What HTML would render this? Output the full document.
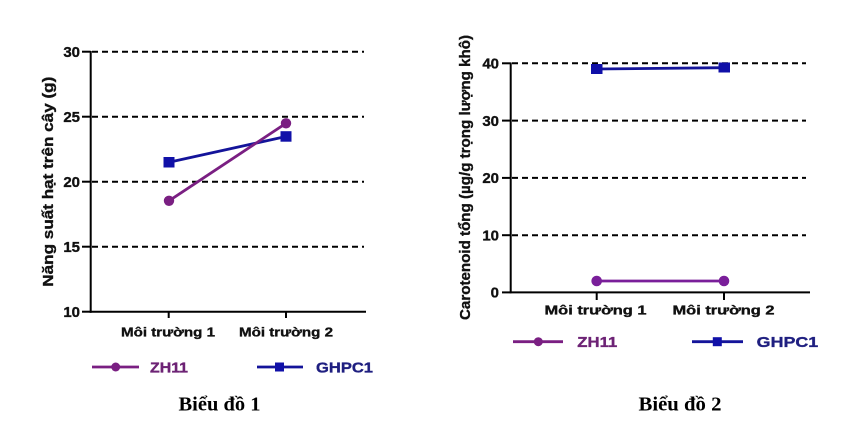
<!DOCTYPE html>
<html><head><meta charset="utf-8"><style>
html,body{margin:0;padding:0;background:#fff;}
svg{display:block;}
text{font-family:"Liberation Sans",Arial,sans-serif;font-weight:bold;}
.cap{font-family:"Liberation Serif","Times New Roman",serif;font-weight:bold;}
.hv{stroke:currentColor;stroke-width:0.35;}
</style></head><body>
<svg width="864" height="447" viewBox="0 0 864 447" xmlns="http://www.w3.org/2000/svg">
<rect width="864" height="447" fill="#fff"/>
<!-- Chart 1 -->
<g stroke="#000" stroke-width="2" stroke-dasharray="6,4" fill="none">
<line x1="92" y1="51.7" x2="364" y2="51.7"/>
<line x1="92" y1="116.7" x2="364" y2="116.7"/>
<line x1="92" y1="181.7" x2="364" y2="181.7"/>
<line x1="92" y1="246.7" x2="364" y2="246.7"/>
</g>
<g stroke="#000" stroke-width="2" fill="none">
<line x1="90.7" y1="51" x2="90.7" y2="312.7"/>
<line x1="89.7" y1="311.7" x2="366" y2="311.7"/>
<line x1="82" y1="51.7" x2="90.7" y2="51.7"/>
<line x1="82" y1="116.7" x2="90.7" y2="116.7"/>
<line x1="82" y1="181.7" x2="90.7" y2="181.7"/>
<line x1="82" y1="246.7" x2="90.7" y2="246.7"/>
<line x1="82" y1="311.7" x2="90.7" y2="311.7"/>
<line x1="168.7" y1="311.7" x2="168.7" y2="318"/>
<line x1="286" y1="311.7" x2="286" y2="318"/>
</g>
<g font-size="15" text-anchor="end" fill="#111" style="color:#111" class="hv">
<text x="80" y="57">30</text>
<text x="80" y="122">25</text>
<text x="80" y="187">20</text>
<text x="80" y="252">15</text>
<text x="80" y="317">10</text>
</g>
<text class="hv" style="color:#111" x="121" y="336.5" font-size="13" fill="#111" textLength="94" lengthAdjust="spacingAndGlyphs">Môi trường 1</text>
<text class="hv" style="color:#111" x="239" y="336.5" font-size="13" fill="#111" textLength="94" lengthAdjust="spacingAndGlyphs">Môi trường 2</text>
<text class="hv" style="color:#111" transform="translate(53,286.7) rotate(-90)" font-size="15" fill="#111" textLength="210" lengthAdjust="spacingAndGlyphs">Năng suất hạt trên cây (g)</text>
<!-- series chart1 -->
<line x1="169" y1="162.3" x2="286" y2="136.5" stroke="#14149a" stroke-width="2.8"/>
<line x1="169" y1="200.8" x2="286" y2="123.3" stroke="#7a1f82" stroke-width="2.8"/>
<rect x="163.5" y="157" width="11" height="10.5" fill="#1010a8"/>
<rect x="280.5" y="131.2" width="11" height="10.5" fill="#1010a8"/>
<circle cx="169" cy="200.8" r="5.2" fill="#7a1f82"/>
<circle cx="286" cy="123.3" r="5.2" fill="#7a1f82"/>
<!-- legend 1 -->
<line x1="92" y1="367" x2="139" y2="367" stroke="#7a1f82" stroke-width="2.8"/>
<circle cx="115.7" cy="367" r="4.5" fill="#7a1f82"/>
<text class="hv" style="color:#6d2375" x="150" y="372.5" font-size="15" fill="#6d2375" textLength="38" lengthAdjust="spacingAndGlyphs">ZH11</text>
<line x1="257" y1="367" x2="303" y2="367" stroke="#14149a" stroke-width="2.8"/>
<rect x="275" y="362.5" width="9" height="9" fill="#1010a8"/>
<text class="hv" style="color:#1f1f80" x="316" y="372.5" font-size="15" fill="#1f1f80" textLength="57" lengthAdjust="spacingAndGlyphs">GHPC1</text>
<text class="cap" x="178.5" y="410.7" font-size="20" fill="#000" textLength="82" lengthAdjust="spacingAndGlyphs">Biểu đồ 1</text>

<!-- Chart 2 -->
<g stroke="#000" stroke-width="2" stroke-dasharray="6,4" fill="none">
<line x1="512" y1="63.3" x2="806" y2="63.3"/>
<line x1="512" y1="120.6" x2="806" y2="120.6"/>
<line x1="512" y1="177.9" x2="806" y2="177.9"/>
<line x1="512" y1="235.2" x2="806" y2="235.2"/>
</g>
<g stroke="#000" stroke-width="2" fill="none">
<line x1="510.7" y1="62.5" x2="510.7" y2="293.3"/>
<line x1="509.7" y1="292.4" x2="810" y2="292.4"/>
<line x1="502" y1="63.3" x2="510.7" y2="63.3"/>
<line x1="502" y1="120.6" x2="510.7" y2="120.6"/>
<line x1="502" y1="177.9" x2="510.7" y2="177.9"/>
<line x1="502" y1="235.2" x2="510.7" y2="235.2"/>
<line x1="502" y1="292.4" x2="510.7" y2="292.4"/>
<line x1="596.7" y1="292.4" x2="596.7" y2="300"/>
<line x1="724" y1="292.4" x2="724" y2="300"/>
</g>
<g font-size="15" text-anchor="end" fill="#111" style="color:#111" class="hv">
<text x="499" y="68.6">40</text>
<text x="499" y="125.9">30</text>
<text x="499" y="183.2">20</text>
<text x="499" y="240.5">10</text>
<text x="499" y="297.7">0</text>
</g>
<text class="hv" style="color:#111" x="544.5" y="314.5" font-size="13" fill="#111" textLength="102" lengthAdjust="spacingAndGlyphs">Môi trường 1</text>
<text class="hv" style="color:#111" x="672.5" y="314.5" font-size="13" fill="#111" textLength="102" lengthAdjust="spacingAndGlyphs">Môi trường 2</text>
<text class="hv" style="color:#111" transform="translate(470,320) rotate(-90)" font-size="15" fill="#111" textLength="285" lengthAdjust="spacingAndGlyphs">Carotenoid tổng (µg/g trọng lượng khô)</text>
<!-- series chart2 -->
<line x1="596.7" y1="69" x2="724" y2="67.7" stroke="#14149a" stroke-width="2.8"/>
<line x1="596.7" y1="281" x2="724" y2="281" stroke="#7a1f9a" stroke-width="2.8"/>
<rect x="591" y="64" width="11.5" height="10" fill="#1010a8"/>
<rect x="718.5" y="62.5" width="11.5" height="10" fill="#1010a8"/>
<circle cx="596.7" cy="281" r="5.3" fill="#7a1f9a"/>
<circle cx="724" cy="281" r="5.3" fill="#7a1f9a"/>
<!-- legend 2 -->
<line x1="513" y1="341.7" x2="563" y2="341.7" stroke="#7a1f82" stroke-width="2.8"/>
<circle cx="538.3" cy="341.7" r="4.5" fill="#7a1f82"/>
<text class="hv" style="color:#6d2375" x="577.3" y="347" font-size="15" fill="#6d2375" textLength="40" lengthAdjust="spacingAndGlyphs">ZH11</text>
<line x1="692" y1="341.7" x2="743" y2="341.7" stroke="#14149a" stroke-width="2.8"/>
<rect x="712.8" y="337.2" width="9" height="9" fill="#1010a8"/>
<text class="hv" style="color:#1f1f80" x="756.7" y="347" font-size="15" fill="#1f1f80" textLength="61.5" lengthAdjust="spacingAndGlyphs">GHPC1</text>
<text class="cap" x="638.5" y="410.7" font-size="20" fill="#000" textLength="83" lengthAdjust="spacingAndGlyphs">Biểu đồ 2</text>
</svg>
</body></html>
